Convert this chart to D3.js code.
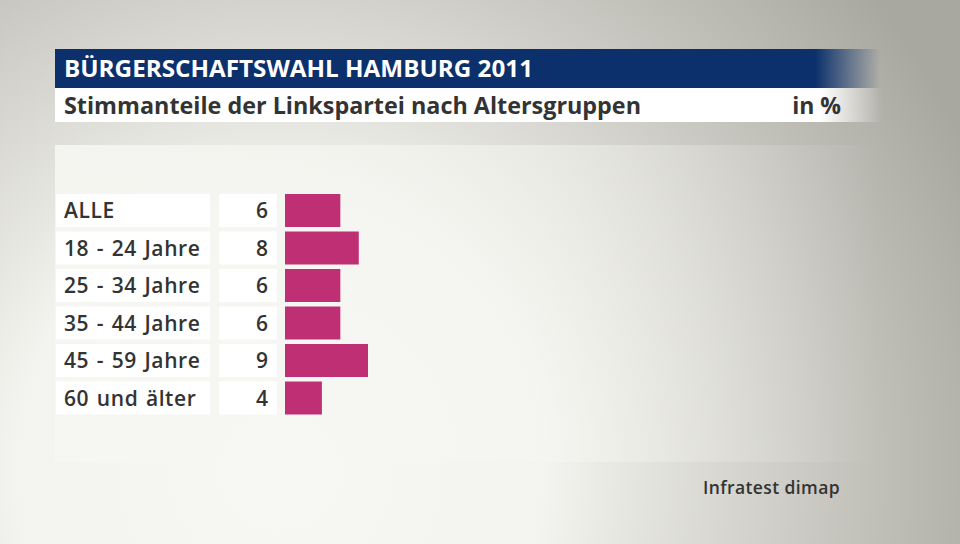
<!DOCTYPE html>
<html>
<head>
<meta charset="utf-8">
<script src="https://cdn.jsdelivr.net/npm/d3@7"></script>
<style>
  body { margin: 0; overflow: hidden; }
  text { font-family: "Open Sans", "Noto Sans", sans-serif; }
</style>
</head>
<body>
<div id="chart"></div>
<script>
var categories = ["ALLE", "18 - 24 Jahre", "25 - 34 Jahre", "35 - 44 Jahre", "45 - 59 Jahre", "60 und älter"];
var values = [6, 8, 6, 6, 9, 4];
var title = "BÜRGERSCHAFTSWAHL HAMBURG 2011";
var subtitle = "Stimmanteile der Linkspartei nach Altersgruppen";
var unit = "in %";
var source = "Infratest dimap";

var width = 960, height = 544;

var svg = d3.select("div#chart")
  .append("svg")
  .attr("width", width)
  .attr("height", height);

var defs = svg.append("defs");

// background: light bottom-left, darker grey top-right
var bg = defs.append("radialGradient")
  .attr("id", "bg")
  .attr("gradientUnits", "userSpaceOnUse")
  .attr("cx", 280).attr("cy", 470).attr("r", 760);
bg.append("stop").attr("offset", "0%").attr("stop-color", "#f7f7f3");
bg.append("stop").attr("offset", "35%").attr("stop-color", "#f3f3ef");
bg.append("stop").attr("offset", "75%").attr("stop-color", "#c4c3bc");
bg.append("stop").attr("offset", "100%").attr("stop-color", "#a9a8a0");

svg.append("rect").attr("width", width).attr("height", height).attr("fill", "url(#bg)");

// fade on the right end of header bars
var fadeNavy = defs.append("linearGradient").attr("id", "fadeNavy")
  .attr("gradientUnits", "userSpaceOnUse").attr("x1", 815).attr("x2", 880).attr("y1", 0).attr("y2", 0);
fadeNavy.append("stop").attr("offset", "0%").attr("stop-color", "#0b306b").attr("stop-opacity", 1);
fadeNavy.append("stop").attr("offset", "100%").attr("stop-color", "#0b306b").attr("stop-opacity", 0);

var fadeWhite = defs.append("linearGradient").attr("id", "fadeWhite")
  .attr("gradientUnits", "userSpaceOnUse").attr("x1", 820).attr("x2", 882).attr("y1", 0).attr("y2", 0);
fadeWhite.append("stop").attr("offset", "0%").attr("stop-color", "#ffffff").attr("stop-opacity", 1);
fadeWhite.append("stop").attr("offset", "100%").attr("stop-color", "#ffffff").attr("stop-opacity", 0);

var fadePanel = defs.append("linearGradient").attr("id", "fadePanel")
  .attr("gradientUnits", "userSpaceOnUse").attr("x1", 55).attr("x2", 880).attr("y1", 0).attr("y2", 0);
fadePanel.append("stop").attr("offset", "0%").attr("stop-color", "#f6f6f2").attr("stop-opacity", 0.9);
fadePanel.append("stop").attr("offset", "60%").attr("stop-color", "#f6f6f2").attr("stop-opacity", 0.5);
fadePanel.append("stop").attr("offset", "100%").attr("stop-color", "#f6f6f2").attr("stop-opacity", 0);

// chart panel
svg.append("rect")
  .attr("x", 55).attr("y", 145).attr("width", 825).attr("height", 317)
  .attr("fill", "url(#fadePanel)");

// header
svg.append("rect").attr("x", 55).attr("y", 49).attr("width", 825).attr("height", 39).attr("fill", "url(#fadeNavy)");
svg.append("rect").attr("x", 55).attr("y", 88).attr("width", 827).attr("height", 34).attr("fill", "url(#fadeWhite)");

svg.append("text")
  .attr("x", 64).attr("y", 77)
  .attr("fill", "#ffffff")
  .attr("font-size", 24).attr("font-weight", 700)
  .attr("textLength", 469).attr("lengthAdjust", "spacingAndGlyphs")
  .text(title);

svg.append("text")
  .attr("x", 64).attr("y", 114)
  .attr("fill", "#333333")
  .attr("font-size", 23).attr("font-weight", 700)
  .attr("textLength", 577).attr("lengthAdjust", "spacingAndGlyphs")
  .text(subtitle);

svg.append("text")
  .attr("x", 841).attr("y", 114)
  .attr("text-anchor", "end")
  .attr("fill", "#333333")
  .attr("font-size", 23).attr("font-weight", 700)
  .text(unit);

// scales
var yScale = d3.scaleBand()
  .domain(categories)
  .range([194, 414.5])
  .paddingInner(0.12)
  .paddingOuter(0);

var xScale = d3.scaleLinear()
  .domain([0, 9])
  .range([285, 368]);

var rows = svg.append("g").attr("class", "rows")
  .selectAll("g")
  .data(categories)
  .enter()
  .append("g")
  .attr("transform", d => "translate(0," + yScale(d) + ")");

rows.append("rect")
  .attr("x", 56).attr("width", 154)
  .attr("height", yScale.bandwidth())
  .attr("fill", "#ffffff");

rows.append("rect")
  .attr("x", 219).attr("width", 58)
  .attr("height", yScale.bandwidth())
  .attr("fill", "#ffffff");

rows.append("text")
  .attr("x", 64)
  .attr("y", yScale.bandwidth() / 2 + 7.5)
  .attr("fill", "#333333")
  .attr("font-size", 21).attr("font-weight", 600)
  .attr("letter-spacing", 0.6)
  .attr("word-spacing", 1.5)
  .text(d => d);

rows.append("text")
  .attr("x", 268)
  .attr("y", yScale.bandwidth() / 2 + 7.5)
  .attr("text-anchor", "end")
  .attr("fill", "#333333")
  .attr("font-size", 21).attr("font-weight", 600)
  .text((d, i) => values[i]);

rows.append("rect")
  .attr("x", xScale(0))
  .attr("width", (d, i) => xScale(values[i]) - xScale(0))
  .attr("height", yScale.bandwidth())
  .attr("fill", "#be3073");

svg.append("text")
  .attr("x", 840).attr("y", 494)
  .attr("text-anchor", "end")
  .attr("fill", "#333333")
  .attr("font-size", 17.5).attr("font-weight", 600)
  .attr("letter-spacing", 0.4)
  .text(source);
</script>
</body>
</html>
